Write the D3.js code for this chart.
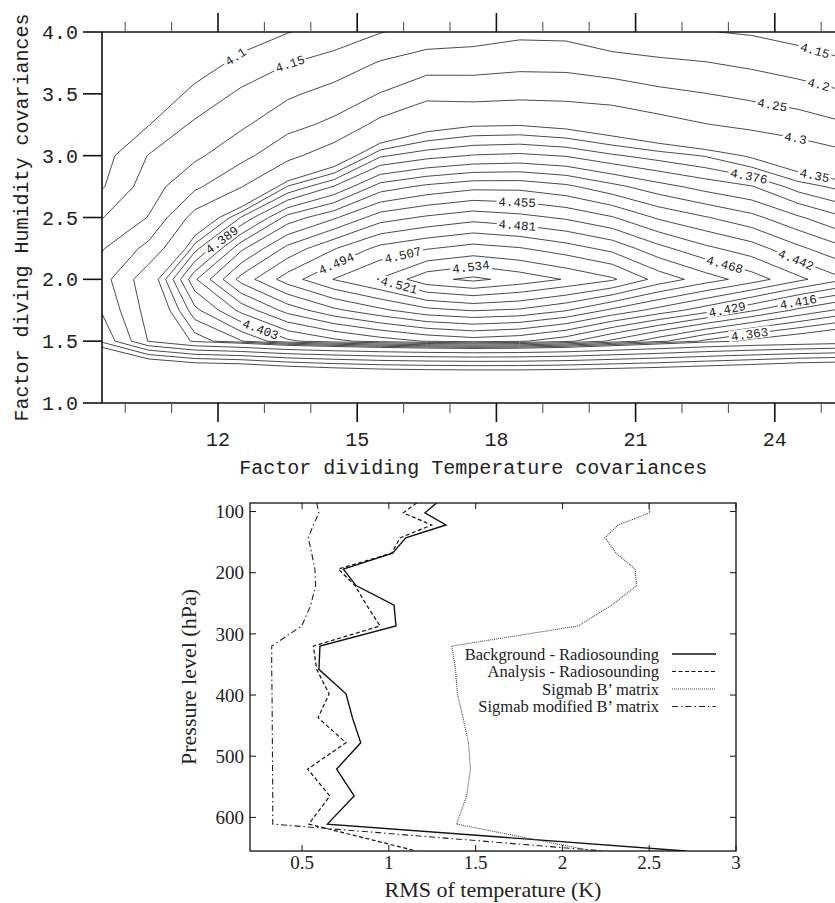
<!DOCTYPE html>
<html>
<head>
<meta charset="utf-8">
<script src="https://cdn.jsdelivr.net/npm/d3@7"></script>
<style>
  body { margin: 0; background: #fff; }
  svg { display: block; }
</style>
</head>
<body>
<svg id="chart" width="835" height="903"></svg>
<script>
// ---------------- Cost-function map (upper panel) ----------------
// Sample columns: factor dividing temperature covariances
const tempFactors = [9.5, 10.5, 11.5, 12.5, 13.5, 14.5, 15.5, 16.5, 17.5, 18.5, 19.5, 20.5, 21.5, 22.5, 23.5, 24.5, 25.5];
// Sample rows: factor dividing humidity covariances
const humFactors = [1.0, 1.25, 1.5, 1.75, 2.0, 2.25, 2.5, 2.75, 3.0, 3.25, 3.5, 3.75, 4.0];

// One row of values per humidity factor (bottom to top)
const costHum100 = [3.78, 3.85, 3.90, 3.92, 3.95, 3.97, 3.98, 3.99, 3.99, 3.99, 3.985, 3.975, 3.965, 3.95, 3.94, 3.92, 3.91];
const costHum125 = [3.86, 3.95, 3.99, 4.00, 4.03, 4.05, 4.065, 4.072, 4.075, 4.075, 4.07, 4.06, 4.05, 4.035, 4.02, 4.00, 3.99];
const costHum150 = [4.16, 4.302, 4.355, 4.375, 4.40, 4.412, 4.422, 4.43, 4.435, 4.431, 4.42, 4.40, 4.38, 4.36, 4.345, 4.335, 4.325];
const costHum175 = [4.205, 4.32, 4.385, 4.42, 4.447, 4.465, 4.478, 4.49, 4.495, 4.492, 4.482, 4.465, 4.45, 4.435, 4.418, 4.40, 4.385];
const costHum200 = [4.23, 4.333, 4.414, 4.46, 4.4875, 4.5075, 4.522, 4.543, 4.55, 4.542, 4.533, 4.523, 4.502, 4.4875, 4.4745, 4.4583, 4.443];
const costHum225 = [4.196, 4.265, 4.371, 4.426, 4.459, 4.48, 4.498, 4.506, 4.512, 4.508, 4.50, 4.49, 4.472, 4.458, 4.448, 4.432, 4.418];
const costHum250 = [4.148, 4.202, 4.32, 4.377, 4.421, 4.44, 4.462, 4.47, 4.476, 4.472, 4.466, 4.456, 4.44, 4.43, 4.42, 4.405, 4.39];
const costHum275 = [4.095, 4.176, 4.24, 4.298, 4.364, 4.39, 4.422, 4.432, 4.438, 4.438, 4.432, 4.42, 4.408, 4.398, 4.39, 4.37, 4.358];
const costHum300 = [4.08, 4.152, 4.19, 4.235, 4.287, 4.328, 4.374, 4.384, 4.39, 4.392, 4.388, 4.378, 4.37, 4.362, 4.347, 4.328, 4.312];
const costHum325 = [4.07, 4.098, 4.16, 4.192, 4.234, 4.262, 4.315, 4.34, 4.348, 4.349, 4.344, 4.334, 4.32, 4.302, 4.29, 4.278, 4.255];
const costHum350 = [4.065, 4.085, 4.105, 4.162, 4.192, 4.218, 4.252, 4.288, 4.283, 4.288, 4.286, 4.28, 4.262, 4.251, 4.238, 4.222, 4.205];
const costHum375 = [4.06, 4.075, 4.09, 4.105, 4.148, 4.17, 4.204, 4.225, 4.228, 4.235, 4.234, 4.22, 4.21, 4.202, 4.19, 4.176, 4.155];
const costHum400 = [4.055, 4.065, 4.08, 4.09, 4.098, 4.12, 4.148, 4.168, 4.175, 4.188, 4.186, 4.165, 4.155, 4.152, 4.145, 4.13, 4.12];

const contourLevels = [4.1, 4.15, 4.2, 4.25, 4.3, 4.35, 4.363, 4.376, 4.389, 4.403, 4.416,
  4.429, 4.442, 4.455, 4.468, 4.481, 4.494, 4.507, 4.521, 4.534, 4.547];

// Where each labelled isoline carries its value: [level, temp factor, humidity factor]
const contourLabelSpots = [
  [4.1, 12.47, 3.75], [4.15, 13.5, 3.8], [4.389, 12.0, 2.36], [4.403, 12.95, 1.63],
  [4.494, 14.5, 2.17], [4.507, 15.95, 2.25], [4.521, 15.9, 1.95], [4.534, 17.45, 2.1],
  [4.455, 18.45, 2.63], [4.481, 18.45, 2.43], [4.468, 22.95, 2.16], [4.442, 24.5, 2.2],
  [4.429, 22.95, 1.8], [4.416, 24.5, 1.83], [4.363, 23.45, 1.57], [4.376, 23.45, 2.85],
  [4.35, 24.88, 2.88], [4.3, 24.45, 3.15], [4.25, 23.95, 3.42], [4.2, 24.95, 3.58],
  [4.15, 24.85, 3.83]
];

const tempMajorTicks = [12, 15, 18, 21, 24];
const tempMinorTicks = [10, 11, 13, 14, 16, 17, 19, 20, 22, 23, 25];
const humTicks = [1.0, 1.5, 2.0, 2.5, 3.0, 3.5, 4.0];

// ---------------- RMS profiles (lower panel) ----------------
const pressureLevels = [86, 102, 122, 143, 168, 194, 221, 253, 287, 320, 358, 398, 437, 478, 521, 565, 611, 655];
const rmsBackground = [1.275, 1.208, 1.329, 1.097, 1.022, 0.738, 0.811, 1.03, 1.041, 0.603, 0.597, 0.753, 0.79, 0.838, 0.699, 0.80, 0.646, 2.71];
const rmsAnalysis   = [1.16, 1.083, 1.247, 1.064, 1.016, 0.709, 0.805, 0.872, 0.949, 0.565, 0.584, 0.656, 0.592, 0.753, 0.532, 0.66, 0.539, 1.159];
const rmsSigmab     = [2.495, 2.504, 2.32, 2.245, 2.31, 2.418, 2.428, 2.284, 2.09, 1.362, 1.384, 1.395, 1.427, 1.459, 1.47, 1.448, 1.39, 2.176];
const rmsSigmabMod  = [0.584, 0.597, 0.565, 0.536, 0.555, 0.574, 0.578, 0.55, 0.498, 0.325, 0.325, 0.327, 0.328, 0.329, 0.33, 0.331, 0.331, 2.24];
const seriesNames = ["Background - Radiosounding", "Analysis - Radiosounding", "Sigmab B\u2019 matrix", "Sigmab modified B\u2019 matrix"];
const rmsTicks = [0.5, 1, 1.5, 2, 2.5, 3];
const pressureTicks = [100, 200, 300, 400, 500, 600];

// =================================================================
const svg = d3.select("#chart");
const monoFont = "'Liberation Mono', 'DejaVu Sans Mono', monospace";
const serifFont = "'Liberation Serif', 'Times New Roman', serif";

// ---------- upper panel ----------
const upper = { left: 102, right: 844.4, top: 32, bottom: 403 };
const xT = d3.scaleLinear([9.5, 25.5], [upper.left, upper.right]);
const yT = d3.scaleLinear([1, 4], [upper.bottom, upper.top]);

const nx = tempFactors.length, ny = humFactors.length;
const gridRows = [costHum100, costHum125, costHum150, costHum175, costHum200, costHum225, costHum250,
  costHum275, costHum300, costHum325, costHum350, costHum375, costHum400];
const values = gridRows.flat();

const isobands = d3.contours().size([nx, ny]).thresholds(contourLevels)(values);

// grid coordinates (samples at i + 0.5) -> data coordinates
const gx = d3.scaleLinear([0.5, nx - 0.5], [tempFactors[0], tempFactors[nx - 1]]);
const gy = d3.scaleLinear([0.5, ny - 0.5], [humFactors[0], humFactors[ny - 1]]);
const toPixel = (p) => [xT(gx(p[0])), yT(gy(p[1]))];
const projection = d3.geoTransform({
  point(x, y) { const q = toPixel([x, y]); this.stream.point(q[0], q[1]); }
});
const geoPath = d3.geoPath(projection);

svg.append("clipPath").attr("id", "mapClip")
  .append("rect").attr("x", upper.left).attr("y", upper.top)
  .attr("width", upper.right - upper.left).attr("height", upper.bottom - upper.top);

const mapG = svg.append("g").attr("clip-path", "url(#mapClip)");
mapG.selectAll("path.iso").data(isobands).join("path")
  .attr("class", "iso")
  .attr("d", geoPath)
  .attr("fill", "none")
  .attr("stroke", "#2a2a2a")
  .attr("stroke-width", 0.85)
  .attr("stroke-linejoin", "round");

// contour value labels, placed on the nearest point of their isoline
const inside = (q) => q[0] >= upper.left && q[0] <= upper.right && q[1] >= upper.top && q[1] <= upper.bottom;
contourLabelSpots.forEach(([level, lx, ly]) => {
  const band = isobands.find(c => Math.abs(c.value - level) < 1e-9);
  if (!band) return;
  const target = [xT(lx), yT(ly)];
  let best = null;
  band.coordinates.forEach(poly => poly.forEach(ring => {
    for (let i = 0; i < ring.length - 1; i++) {
      const a = toPixel(ring[i]), b = toPixel(ring[i + 1]);
      if (!inside(a) || !inside(b)) continue;
      const dx = b[0] - a[0], dy = b[1] - a[1];
      const len2 = dx * dx + dy * dy;
      if (len2 === 0) continue;
      let t = ((target[0] - a[0]) * dx + (target[1] - a[1]) * dy) / len2;
      t = Math.max(0, Math.min(1, t));
      const p = [a[0] + t * dx, a[1] + t * dy];
      const d = Math.hypot(p[0] - target[0], p[1] - target[1]);
      if (!best || d < best.d) best = { d, p, ang: Math.atan2(dy, dx) * 180 / Math.PI };
    }
  }));
  if (!best) return;
  let ang = best.ang;
  if (ang > 90) ang -= 180;
  if (ang < -90) ang += 180;
  const txt = String(level);
  const w = txt.length * 7.5;
  const g = mapG.append("g").attr("transform", `translate(${best.p[0]},${best.p[1]}) rotate(${ang})`);
  g.append("rect").attr("x", -w / 2 - 2).attr("y", -5.5).attr("width", w + 4).attr("height", 11).attr("fill", "#fff");
  g.append("text").attr("text-anchor", "middle").attr("dy", "0.35em")
    .attr("font-family", monoFont).attr("font-size", 12.5).attr("fill", "#222").text(txt);
});

// axes of the upper panel
const axG = svg.append("g").attr("stroke", "#111").attr("stroke-width", 1.6).attr("fill", "none");
axG.append("line").attr("x1", upper.left).attr("x2", upper.right).attr("y1", upper.bottom).attr("y2", upper.bottom);
axG.append("line").attr("x1", upper.left).attr("x2", upper.right).attr("y1", upper.top).attr("y2", upper.top);
axG.append("line").attr("x1", upper.left).attr("x2", upper.left).attr("y1", upper.top).attr("y2", upper.bottom);
axG.append("line").attr("x1", upper.right).attr("x2", upper.right).attr("y1", upper.top).attr("y2", upper.bottom);

humTicks.forEach(v => {
  axG.append("line").attr("x1", upper.left - 19).attr("x2", upper.left).attr("y1", yT(v)).attr("y2", yT(v));
});
tempMajorTicks.forEach(v => {
  axG.append("line").attr("x1", xT(v)).attr("x2", xT(v)).attr("y1", upper.bottom).attr("y2", upper.bottom + 19);
  axG.append("line").attr("x1", xT(v)).attr("x2", xT(v)).attr("y1", upper.top).attr("y2", upper.top - 19);
});
tempMinorTicks.forEach(v => {
  axG.append("line").attr("x1", xT(v)).attr("x2", xT(v)).attr("y1", upper.bottom).attr("y2", upper.bottom + 10)
    .attr("stroke-width", 1.1).attr("stroke", "#555");
  axG.append("line").attr("x1", xT(v)).attr("x2", xT(v)).attr("y1", upper.top).attr("y2", upper.top - 10)
    .attr("stroke-width", 1.1).attr("stroke", "#555");
});

const tickTxt = svg.append("g").attr("font-family", monoFont).attr("font-size", 20).attr("fill", "#222");
humTicks.forEach(v => {
  tickTxt.append("text").attr("x", upper.left - 24).attr("y", yT(v)).attr("dy", "0.35em")
    .attr("text-anchor", "end").text(d3.format(".1f")(v));
});
tempMajorTicks.forEach(v => {
  tickTxt.append("text").attr("x", xT(v)).attr("y", 446).attr("text-anchor", "middle").text(v);
});
svg.append("text").attr("x", (upper.left + upper.right) / 2).attr("y", 474)
  .attr("text-anchor", "middle").attr("font-family", monoFont).attr("font-size", 20).attr("fill", "#222")
  .text("Factor dividing Temperature covariances");
svg.append("text").attr("transform", `translate(28,${(upper.top + upper.bottom) / 2}) rotate(-90)`)
  .attr("text-anchor", "middle").attr("font-family", monoFont).attr("font-size", 20).attr("fill", "#222")
  .text("Factor diving Humidity covariances");

// ---------- lower panel ----------
const lower = { left: 250, right: 736, top: 503, bottom: 851 };
const xB = d3.scaleLinear([0.2, 3], [lower.left, lower.right]);
const yB = d3.scaleLinear([86, 655], [lower.top, lower.bottom]);

const lowG = svg.append("g");
lowG.append("rect").attr("x", lower.left).attr("y", lower.top)
  .attr("width", lower.right - lower.left).attr("height", lower.bottom - lower.top)
  .attr("fill", "none").attr("stroke", "#111").attr("stroke-width", 1.3);

const tickLen = 6;
rmsTicks.forEach(v => {
  lowG.append("line").attr("x1", xB(v)).attr("x2", xB(v)).attr("y1", lower.bottom).attr("y2", lower.bottom - tickLen).attr("stroke", "#111");
  lowG.append("line").attr("x1", xB(v)).attr("x2", xB(v)).attr("y1", lower.top).attr("y2", lower.top + tickLen).attr("stroke", "#111");
  lowG.append("text").attr("x", xB(v)).attr("y", 869).attr("text-anchor", "middle")
    .attr("font-family", serifFont).attr("font-size", 19).attr("fill", "#222").text(v);
});
pressureTicks.forEach(v => {
  lowG.append("line").attr("x1", lower.left).attr("x2", lower.left + tickLen).attr("y1", yB(v)).attr("y2", yB(v)).attr("stroke", "#111");
  lowG.append("line").attr("x1", lower.right).attr("x2", lower.right - tickLen).attr("y1", yB(v)).attr("y2", yB(v)).attr("stroke", "#111");
  lowG.append("text").attr("x", lower.left - 6).attr("y", yB(v)).attr("dy", "0.35em").attr("text-anchor", "end")
    .attr("font-family", serifFont).attr("font-size", 19).attr("fill", "#222").text(v);
});
lowG.append("text").attr("x", (lower.left + lower.right) / 2).attr("y", 897).attr("text-anchor", "middle")
  .attr("font-family", serifFont).attr("font-size", 22).attr("fill", "#222").text("RMS of temperature (K)");
lowG.append("text").attr("transform", `translate(196,${(lower.top + lower.bottom) / 2}) rotate(-90)`)
  .attr("text-anchor", "middle").attr("font-family", serifFont).attr("font-size", 22).attr("fill", "#222")
  .text("Pressure level (hPa)");

const styles = [
  { data: rmsBackground, dash: null, width: 1.4, color: "#111" },
  { data: rmsAnalysis, dash: "4,2.5", width: 1.2, color: "#111" },
  { data: rmsSigmab, dash: "1,1", width: 1.1, color: "#444" },
  { data: rmsSigmabMod, dash: "6,3,1.5,3", width: 1.1, color: "#222" }
];
const line = d3.line().x(d => xB(d[0])).y(d => yB(d[1]));
svg.append("clipPath").attr("id", "lowClip").append("rect")
  .attr("x", lower.left).attr("y", lower.top).attr("width", lower.right - lower.left).attr("height", lower.bottom - lower.top);
const seriesG = lowG.append("g").attr("clip-path", "url(#lowClip)");
styles.forEach(s => {
  seriesG.append("path").datum(s.data.map((v, i) => [v, pressureLevels[i]]))
    .attr("d", line).attr("fill", "none").attr("stroke", s.color).attr("stroke-width", s.width)
    .attr("stroke-dasharray", s.dash);
});

// legend
const legendRows = [654, 671.5, 689, 706.5];
seriesNames.forEach((name, i) => {
  lowG.append("text").attr("x", 659).attr("y", legendRows[i]).attr("dy", "0.35em").attr("text-anchor", "end")
    .attr("font-family", serifFont).attr("font-size", 16.5).attr("fill", "#222").text(name);
  lowG.append("line").attr("x1", 672).attr("x2", 716).attr("y1", legendRows[i]).attr("y2", legendRows[i])
    .attr("stroke", styles[i].color).attr("stroke-width", styles[i].width).attr("stroke-dasharray", styles[i].dash);
});
</script>
</body>
</html>
